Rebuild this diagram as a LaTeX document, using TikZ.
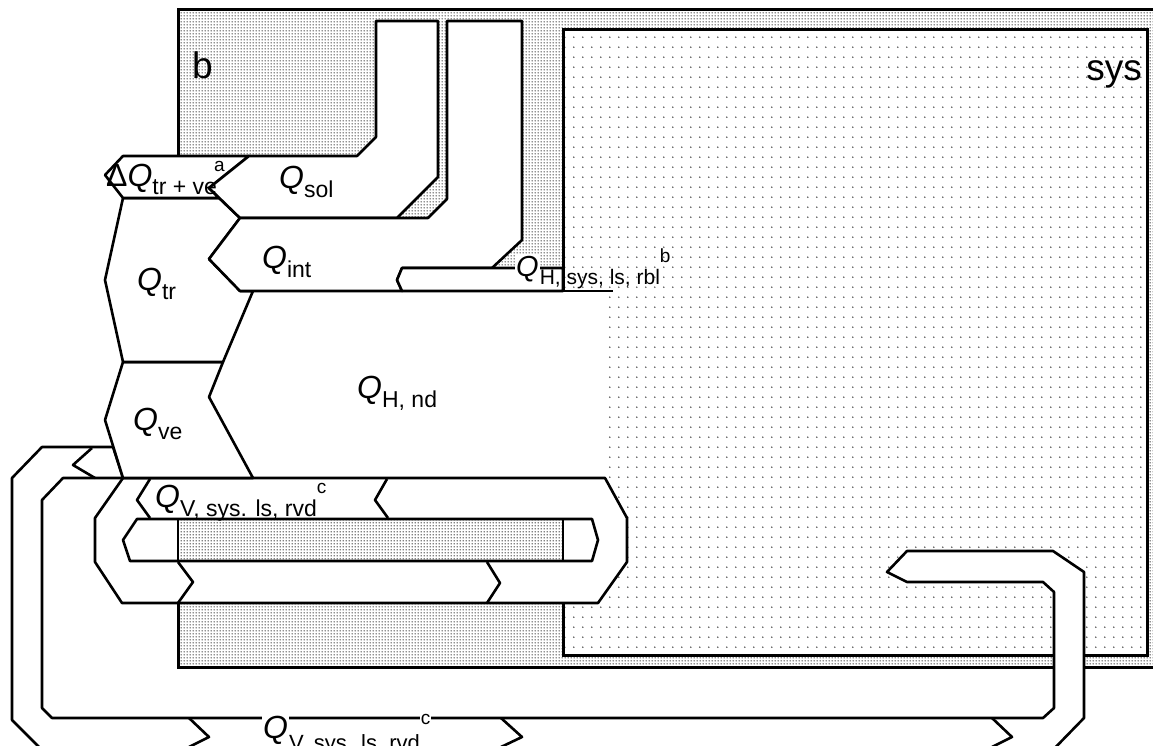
\documentclass[tikz,border=0pt]{standalone}
\usepackage{fontspec}
\setmainfont{Liberation Sans}
\usetikzlibrary{patterns}
\setlength{\fboxsep}{1pt}
\pgfdeclarepatternformonly{densedots}{\pgfqpoint{0pt}{0pt}}{\pgfqpoint{3pt}{3pt}}{\pgfqpoint{3pt}{3pt}}{\pgfpathcircle{\pgfqpoint{1.5pt}{1.5pt}}{0.95pt}\pgfusepath{fill}}
\pgfdeclarepatternformonly{sparsedots}{\pgfqpoint{0pt}{0pt}}{\pgfqpoint{8.5pt}{9.5pt}}{\pgfqpoint{8.5pt}{9.5pt}}{\pgfpathcircle{\pgfqpoint{4pt}{4pt}}{0.85pt}\pgfusepath{fill}}
\newcommand{\qsym}{\textit{Q}}
\newcommand{\qsub}[1]{\raisebox{-9pt}{\fontsize{23}{25}\selectfont #1}}
\newcommand{\qsup}[1]{\raisebox{14pt}{\fontsize{19}{21}\selectfont #1}}
\begin{document}
\begin{tikzpicture}[x=1pt,y=-1pt,
  dense/.style={pattern=densedots,pattern color=black!85},
  sparse/.style={pattern=sparsedots,pattern color=black!75},
  boxline/.style={draw=black,line width=3pt},
  flow/.style={fill=white,draw=black,line width=2.6pt,line join=round},
  fl/.style={draw=black,line width=2.6pt,line join=round},
  lbl/.style={inner sep=0pt,anchor=base west,font=\fontsize{32}{35}\selectfont},
  big/.style={inner sep=0pt,font=\fontsize{37}{40}\selectfont}]
\useasboundingbox (0,0) rectangle (1153,746);
\fill[white] (0,0) rectangle (1153,746);
% zone b
\path[dense] (178,10) rectangle (1156,667);
\draw[boxline] (1156,10) -- (178,10) -- (178,667) -- (1156,667);
% system
\path[fill=white] (563,30) rectangle (1147,655);
\path[sparse] (563,30) rectangle (1147,655);
\draw[boxline] (563,30) rectangle (1147,655);
% Q_H,nd fill
\fill[white] (253,291) -- (606,291) -- (606,478) -- (253,478) -- (209,397) -- cycle;
% outer loop
\path[flow] (907,551) -- (1053,551) -- (1084,572) -- (1084,718) -- (1048,755) -- (47,755) -- (12,720) -- (12,478) -- (42,447) -- (113,447) -- (123,478) -- (63,478) -- (42,500) -- (42,708) -- (52,718) -- (1043,718) -- (1054,708) -- (1054,592) -- (1043,582) -- (907,582) -- (887,572) -- cycle;
\path[fl] (92,448) -- (73,465) -- (95,478);
\path[fl] (189,718) -- (209,737) -- (189,747);
\path[fl] (501,718) -- (522,737) -- (501,747);
\path[fl] (992,718) -- (1012,737) -- (992,747);
% inner ring
\path[flow] (123,478) -- (605,478) -- (627,518) -- (627,562) -- (598,603) -- (122,603) -- (95,562) -- (95,518) -- cycle;
\path[dense] (178,519) rectangle (563,561);
\path[fl] (137,519) -- (592,519) -- (598,540) -- (592,561) -- (130,561) -- (123,540) -- cycle;
\path[fl] (178,519) -- (178,561) (563,519) -- (563,561);
\path[fl] (150,479) -- (137,500) -- (150,518);
\path[fl] (387,479) -- (375,500) -- (388,518);
\path[fl] (178,562) -- (193,582) -- (178,603);
\path[fl] (487,562) -- (500,583) -- (487,603);
% left flows
\path[flow] (123,362) -- (223,362) -- (209,397) -- (253,478) -- (123,478) -- (105,420) -- cycle;
\path[flow] (123,198) -- (219,198) -- (240,218) -- (209,259) -- (240,291) -- (253,291) -- (223,362) -- (123,362) -- (105,280) -- cycle;
\path[flow] (123,156) -- (249,156) -- (209,188) -- (219,198) -- (123,198) -- (105,175) -- cycle;
\path[flow] (376,21) -- (438,21) -- (438,177) -- (397,218) -- (240,218) -- (209,188) -- (249,156) -- (357,156) -- (376,137) -- cycle;
\path[flow] (447,21) -- (522,21) -- (522,240) -- (492,268) -- (402,268) -- (397,280) -- (402,291) -- (240,291) -- (209,259) -- (240,218) -- (428,218) -- (447,199) -- cycle;
\path[flow] (402,268) -- (563,268) -- (563,291) -- (402,291) -- (397,280) -- cycle;
\path[fl] (240,291) -- (613,291);
\path[fl] (63,478) -- (605,478);
% labels
\node[big,anchor=base west] (lb) at (192,79) {b};
\node[big,anchor=base east] (lsys) at (1142,81) {sys};
\node[lbl] (ldq) at (106,186) {Δ\qsym\qsub{tr + ve}\kern-3pt\qsup{a}};
\node[lbl] (lsol) at (279,189) {\qsym\qsub{sol}};
\node[lbl] (lint) at (262,268) {\qsym\qsub{int}};
\node[lbl] (ltr) at (137,290) {\qsym\qsub{tr}};
\node[lbl] (lve) at (133,430) {\qsym\qsub{ve}};
\node[lbl] (lhnd) at (357,398) {\qsym\qsub{H, nd}};
\node[lbl,font=\fontsize{29}{32}\selectfont] (lhsys) at (515,276) {\colorbox{white}{\qsym}\raisebox{-8pt}{\fontsize{21}{23}\selectfont H, sys, ls, rbl}\qsup{b}};
\node[lbl] (lv1) at (155,507) {\qsym\qsub{V, sys. ls, rvd}\qsup{c}};
\node[lbl] (lv2) at (262,738) {\colorbox{white}{\qsym}\raisebox{-12pt}{\fontsize{22}{24}\selectfont V, sys. ls, rvd}\raisebox{14pt}{\colorbox{white}{\fontsize{19}{21}\selectfont c}}};
\end{tikzpicture}
\end{document}
